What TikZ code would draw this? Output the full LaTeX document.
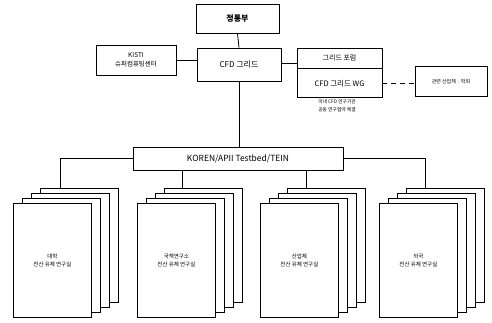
\documentclass[tikz,border=0pt]{standalone}
\usepackage{fontspec}
\setmainfont{Noto Sans CJK KR}
\begin{document}
\begin{tikzpicture}[x=1pt,y=-1pt,line width=0.8pt,
  box/.style={draw,fill=white,inner sep=0pt,align=center},
  page/.style={draw,fill=white,inner sep=0pt,minimum width=78pt,minimum height=114pt,anchor=north west,align=center,font=\fontsize{5.5}{7}\selectfont},
  dashline/.style={dashed,dash pattern=on 5pt off 4pt}]
\useasboundingbox (0,0) rectangle (492,322);
% top boxes
\node[box,minimum width=83pt,minimum height=29pt,font=\bfseries\fontsize{8}{10}\selectfont] (mic) at (237.5,18.5) {정통부};
\node[box,minimum width=84pt,minimum height=33pt,font=\fontsize{8}{10}\selectfont] (cfd) at (239,64.5) {CFD 그리드};
\node[box,minimum width=80pt,minimum height=30pt,font=\fontsize{6.5}{9}\selectfont] (kisti) at (136,60) {KISTI\\슈퍼컴퓨팅센터};
\node[box,minimum width=85pt,minimum height=20pt,font=\fontsize{7}{9}\selectfont] (forum) at (339.5,58) {그리드 포럼};
\node[box,minimum width=85pt,minimum height=29pt,anchor=north,font=\fontsize{7.5}{9}\selectfont] (wg) at (forum.south) {CFD 그리드 WG};
\node[box,minimum width=72pt,minimum height=30pt,font=\fontsize{5}{7}\selectfont] (ext) at (451,81.5) {관련 산업체 · 학회};
\node[align=center,inner sep=0pt,font=\fontsize{4.8}{8}\selectfont] (note) at (337,106) {국내 CFD 연구기관\\공동 연구협약 체결};
\node[box,minimum width=210pt,minimum height=23pt,font=\fontsize{8.5}{10}\selectfont] (koren) at (238,158.5) {KOREN/APII Testbed/TEIN};
% connectors top
\draw (mic.south) -- (cfd.north);
\draw (kisti.east) -- (kisti.east -| cfd.west);
\coordinate (c1) at (0,63);
\draw (cfd.east |- c1) -- (forum.west |- c1);
\draw[dashline] (wg.east) -- (ext.west |- wg.east);
\draw (cfd.south) -- (cfd.south |- koren.north);
% stacks
\foreach \s/\xo/\ta/\tb in {1/13/대학/전산 유체 연구실, 2/137/국책연구소/전산 유체 연구실, 3/260/산업체/전산 유체 연구실, 4/379/외국/전산 유체 연구실}{
  \node[page] (s\s c) at (\xo+27,188) {};
  \node[page] (s\s b) at (\xo+18,193) {};
  \node[page] (s\s a) at (\xo+9,198) {};
  \node[page] (s\s f) at (\xo,203) {\ta\\[1pt]\tb};
}
% connectors bottom
\coordinate (j1) at (60,158.5);
\coordinate (j4) at (425,158.5);
\coordinate (x2) at (182,0);
\coordinate (x3) at (306,0);
\draw (koren.west) -- (j1) -- (j1 |- s1c.north);
\draw (koren.east) -- (j4) -- (j4 |- s4c.north);
\draw (koren.south -| x2) -- (s2c.north -| x2);
\draw (koren.south -| x3) -- (s3c.north -| x3);
\end{tikzpicture}
\end{document}
